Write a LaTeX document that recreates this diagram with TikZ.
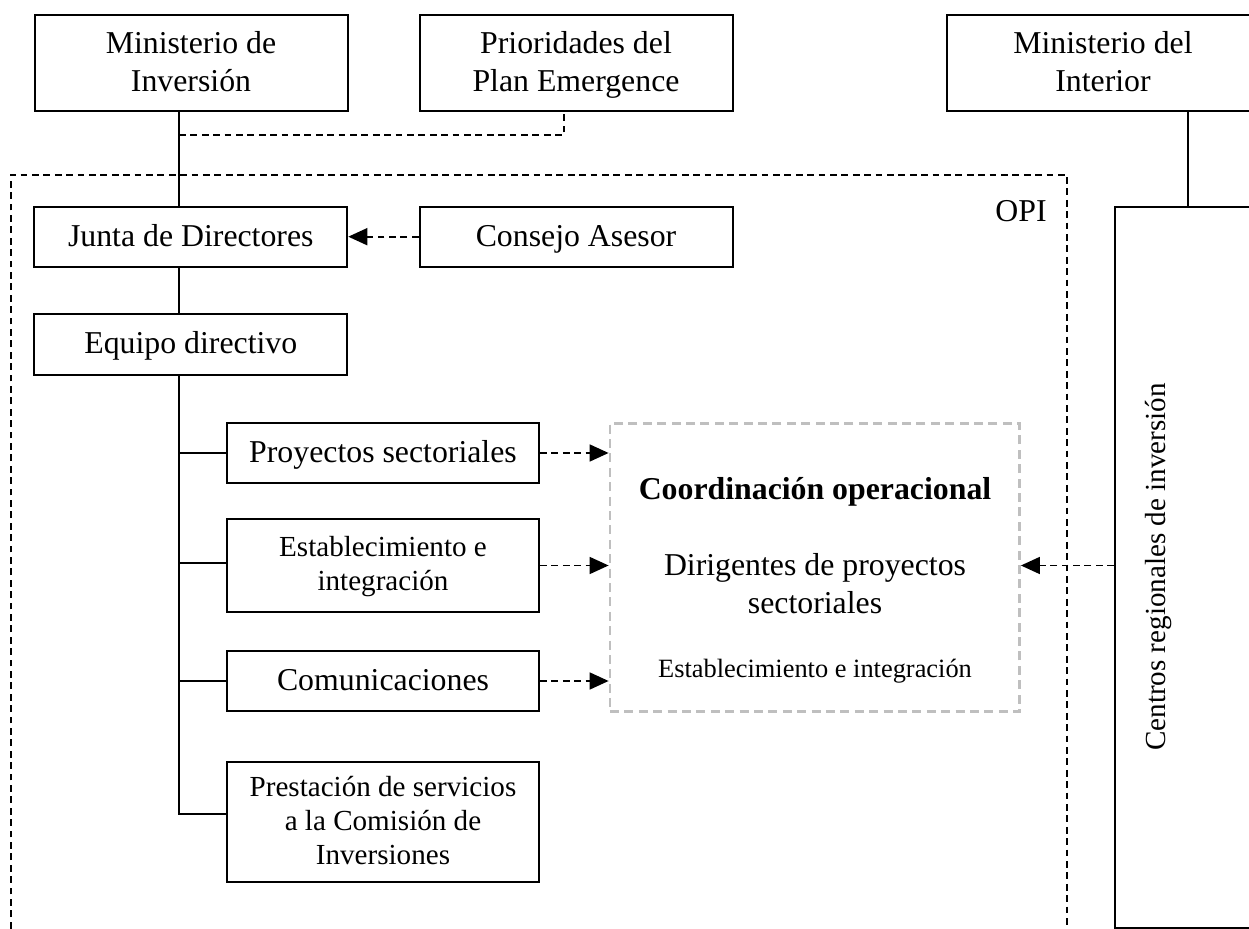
\documentclass[tikz,border=0pt]{standalone}
\usepackage{fontspec}
\setmainfont{Liberation Serif}
\usetikzlibrary{arrows.meta}
\newcommand\fmain{\fontsize{15.9}{19.1}\selectfont}
\newcommand\fmid{\fontsize{14.55}{17}\selectfont}
\newcommand\fsmall{\fontsize{13.2}{15.5}\selectfont}
\newcommand\hs{\rule{0pt}{12.8pt}}
\newcommand\ds{\rule[-3.4pt]{0pt}{3.4pt}}
\newcommand\hsm{\rule{0pt}{11.8pt}}
\newcommand\dsm{\rule[-3.4pt]{0pt}{3.4pt}}
\tikzset{
  box/.style={draw, line width=1pt, inner sep=0pt, align=center, font=\fmain},
  topbox/.style={box, minimum width=156.5pt, minimum height=47.85pt},
  leftbox/.style={box, minimum width=156.5pt, minimum height=30pt},
  childbox/.style={box, minimum width=156pt, minimum height=30pt},
  solidline/.style={line width=1pt},
  dline/.style={line width=0.85pt, dash pattern=on 3.4pt off 2.3pt},
  darrow/.style={dline, -{Triangle[length=9.5pt,width=8.5pt]}},
  graybox/.style={draw=black!25, line width=1.4pt, dash pattern=on 4.5pt off 2.7pt, minimum width=204.75pt, minimum height=144.2pt, inner sep=0pt}
}
\begin{document}
\begin{tikzpicture}[x=0.5pt, y=-0.5pt]
\useasboundingbox (0,0) rectangle (1249,929);

% top row
\node[topbox] (minv) at (191,62.85) {\hs Ministerio de\\Inversión\ds};
\node[topbox] (prio) at (576,62.85) {\hs Prioridades del\\Plan Emergence\ds};
\node[topbox, minimum width=156.3pt] (mint) at (1103,62.85) {\hs Ministerio del\\Interior\ds};

% OPI frame
\coordinate (opiBL) at (10.7,940);
\coordinate (opiTR) at (1067,174.7);
\draw[dline] (opiBL) |- (opiTR) -- (opiTR |- opiBL);
\node[font=\fmain, anchor=base east, inner sep=0pt] (opi) at (1047,221.7) {OPI};

% left column
\node[leftbox] (junta) at (190.8,236.7) {\hs Junta de Directores\ds};
\node[leftbox] (consejo) at (576,236.7) {\hs Consejo Asesor\ds};
\node[leftbox, minimum height=30.5pt] (equipo) at (190.8,344.5) {\hs Equipo directivo\ds};

\node[childbox] (proy) at (383,453) {\hs Proyectos sectoriales\ds};
\node[childbox, minimum height=46.5pt, font=\fmid] (estab) at (383,565.5) {\hsm Establecimiento e\\integración\dsm};
\node[childbox] (comun) at (383,681) {\hs Comunicaciones\ds};
\node[childbox, minimum height=60pt, font=\fmid] (prest) at (383,822) {\hsm Prestación de servicios\\a la Comisión de\\Inversiones\dsm};

% coordination box
\node[graybox] (coord) at (814.75,567.5) {};
\node[font=\fmain\bfseries, anchor=base, inner sep=0pt] (coordt) at (815,500) {Coordinación operacional};
\node[font=\fmain, align=center, inner sep=0pt] (dirig) at (815,584) {Dirigentes de proyectos\\sectoriales};
\node[font=\fsmall, anchor=base, inner sep=0pt] (estt) at (815,678) {Establecimiento e integración};

% regional centres
\node[box, minimum width=72.5pt, minimum height=360.5pt] (centros) at (1187.5,567.2) {};
\node[font=\fmid, rotate=90, anchor=base, inner sep=0pt] (centrost) at (1165,567) {Centros regionales de inversión};

% trunk
\coordinate (trunk) at (179,0);
\coordinate (dj) at (179,135);
\coordinate (pconn) at ([yshift=4pt]prest.west);
\draw[solidline] (trunk |- minv.south) -- (trunk |- junta.north);
\draw[solidline] (trunk |- junta.south) -- (trunk |- equipo.north);
\draw[solidline] (trunk |- equipo.south) -- (trunk |- pconn) -- (pconn);
\draw[solidline] (trunk |- proy.west) -- (proy.west);
\draw[solidline] ([yshift=1.4pt]trunk |- estab.west) -- ([yshift=1.4pt]estab.west);
\draw[solidline] (trunk |- comun.west) -- (comun.west);
\draw[dline] (dj) -| ([xshift=-6pt]prio.south);

% arrows
\draw[darrow] (consejo.west) -- (junta.east);
\draw[darrow] (proy.east) -- (proy.east -| coord.west);
\draw[darrow] (estab.east) -- (estab.east -| coord.west);
\draw[darrow] (comun.east) -- (comun.east -| coord.west);
\draw[darrow] (centros.west |- estab.east) -- (coord.east |- estab.east);

% interior ministry link
\draw[solidline] (mint.south -| centros.north) -- (centros.north);
\end{tikzpicture}
\end{document}
